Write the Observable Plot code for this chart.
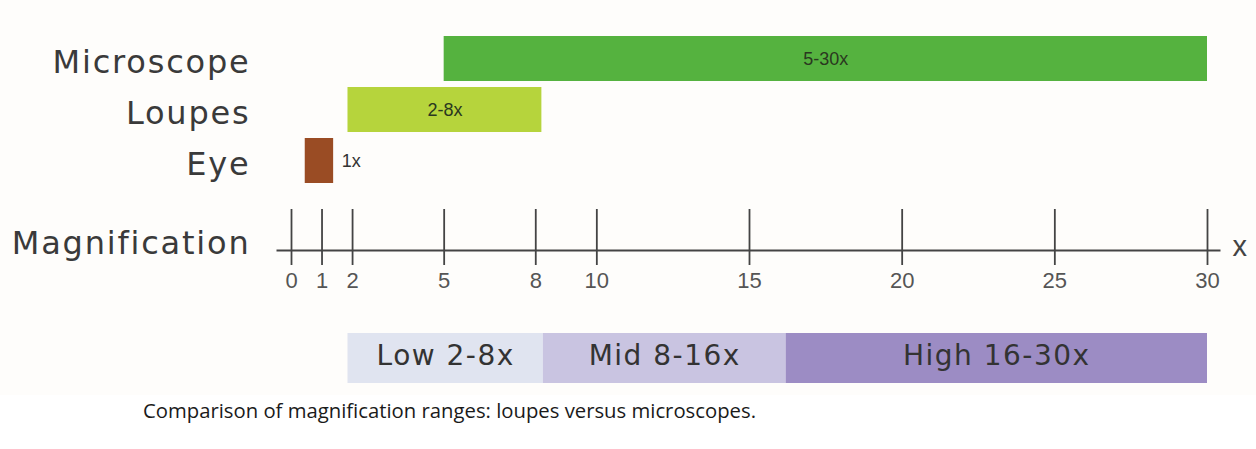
<!DOCTYPE html>
<html>
<head>
<meta charset="utf-8">
<script src="https://cdn.jsdelivr.net/npm/d3@7"></script>
<script src="https://cdn.jsdelivr.net/npm/@observablehq/plot@0.6"></script>
<style>
  html, body { margin: 0; padding: 0; background: #ffffff; }
  #chart svg { display: block; }
  #caption {
    font-family: "Open Sans", sans-serif;
    font-size: 20.3px;
    color: #1a1a1a;
    padding-left: 143px;
    margin-top: 1px;
  }
</style>
</head>
<body>
<div id="chart"></div>
<div id="caption">Comparison of magnification ranges: loupes versus microscopes.</div>
<script>
// Instruments and their magnification ranges
const instruments = ["Microscope", "Loupes", "Eye"];
const rangeLow = [5, 1.85, 0.45];
const rangeHigh = [30, 8.2, 1.38];
const rangeLabels = ["5-30x", "2-8x", "1x"];
const instrumentColors = ["#55b23f", "#b6d43c", "#9a4c24"];

// Magnification tick values
const tickValues = [0, 1, 2, 5, 8, 10, 15, 20, 25, 30];

// Magnification classes
const classNames = ["Low 2-8x", "Mid 8-16x", "High 16-30x"];
const classLow = [1.85, 8.25, 16.2];
const classHigh = [8.25, 16.2, 30];
const classColors = ["#e0e4f0", "#c9c4e1", "#9c8cc4"];

const rows = instruments.map((name, i) => ({
  name, lo: rangeLow[i], hi: rangeHigh[i], label: rangeLabels[i], color: instrumentColors[i]
}));
const classes = classNames.map((name, i) => ({
  name, lo: classLow[i], hi: classHigh[i], color: classColors[i]
}));

const labelFont = "DejaVu Sans, sans-serif";
const H = 395;

const chart = Plot.plot({
  width: 1256,
  height: H,
  marginTop: 0,
  marginLeft: 277,
  marginRight: 37,
  marginBottom: H - 250,
  style: { background: "#fefdfb", fontFamily: labelFont },
  x: { domain: [0, 30], range: [291, 1207] },
  y: { type: "band", domain: instruments, range: [32, 186], paddingInner: 0.12, paddingOuter: 0.06 },
  marks: [
    // class bands below the axis
    Plot.rect(classes, { x1: "lo", x2: "hi", fill: "color", insetTop: 333, insetBottom: -133 }),
    Plot.text(classes, {
      x: d => (d.lo + d.hi) / 2, text: "name", frameAnchor: "bottom", dy: 114,
      fontSize: 28, fill: "#333", fontFamily: labelFont
    }),
    // instrument bars
    Plot.barX(rows, { x1: "lo", x2: "hi", y: "name", fill: "color" }),
    Plot.text(rows.filter(d => d.hi - d.lo > 2), {
      x: d => (d.lo + d.hi) / 2, y: "name", text: "label",
      fontSize: 18, fill: "#2a3820", fontFamily: "Liberation Sans, sans-serif"
    }),
    Plot.text(rows.filter(d => d.hi - d.lo <= 2), {
      x: "hi", y: "name", text: "label", dx: 8, textAnchor: "start",
      fontSize: 18, fill: "#333", fontFamily: "Liberation Sans, sans-serif"
    }),
    // row labels
    Plot.axisY({ tickSize: 0, tickPadding: 27, fontSize: 32, dy: 4, fill: "#3a3a3a", fontFamily: labelFont, label: null }),
    // magnification axis
    Plot.frame({ anchor: "bottom", stroke: "#444", strokeWidth: 2 }),
    Plot.tickX(tickValues, { x: d => d, insetTop: 209, insetBottom: -15, stroke: "#444", strokeWidth: 1.8 }),
    Plot.axisX(tickValues, {
      tickSize: 0, tickPadding: 22, fontSize: 22, fill: "#555",
      fontFamily: "Liberation Sans, sans-serif", label: null, tickFormat: d => String(d)
    }),
    Plot.text(["Magnification"], {
      text: d => d, frameAnchor: "bottom-left", textAnchor: "end", dx: -27, dy: 3,
      fontSize: 32, fill: "#3a3a3a", fontFamily: labelFont
    }),
    Plot.text(["x"], {
      text: d => d, frameAnchor: "bottom-right", textAnchor: "start", dx: 13, dy: 5,
      fontSize: 29, fill: "#444", fontFamily: "Liberation Sans, sans-serif"
    })
  ]
});

// widen the geometric-looking labels a bit
d3.select(chart).selectAll("text").each(function () {
  const t = this.textContent;
  if (instruments.includes(t) || t === "Magnification") d3.select(this).attr("letter-spacing", 1.8);
  else if (classNames.includes(t)) d3.select(this).attr("letter-spacing", 1.5);
});

document.getElementById("chart").appendChild(chart);
</script>
</body>
</html>
